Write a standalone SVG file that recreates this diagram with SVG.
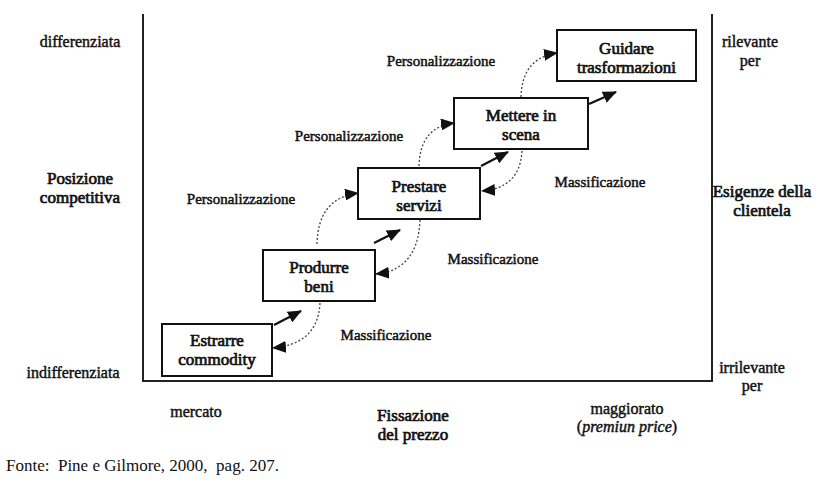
<svg xmlns="http://www.w3.org/2000/svg" width="820" height="488" viewBox="0 0 820 488">
<style>
text{font-family:"Liberation Serif","Times New Roman",serif;fill:#111;}
.b{font-size:17px;text-anchor:middle;stroke:#111;stroke-width:0.7;}
.l{font-size:15px;text-anchor:middle;stroke:#111;stroke-width:0.5;}
.a{font-size:16px;text-anchor:middle;stroke:#111;stroke-width:0.45;}
.n{font-size:17px;}
.box{fill:#fff;stroke:#111;stroke-width:2;}
.solid{stroke:#111;stroke-width:2.2;fill:none;marker-end:url(#head);}
.dot{stroke:#444;stroke-width:1.3;stroke-dasharray:2 2;fill:none;marker-end:url(#head);}
</style>
<defs>
<marker id="head" viewBox="0 0 14 12" refX="13" refY="6" markerWidth="14" markerHeight="12" markerUnits="userSpaceOnUse" orient="auto">
<path d="M0,0 L14,6 L0,12 Z" fill="#111"/>
</marker>
</defs>
<rect width="820" height="488" fill="#fff"/>
<g id="frame">
<path d="M143,14 V381 H712 V14" fill="none" stroke="#222" stroke-width="2"/>
</g>
<g id="axis-labels">
<text class="a" x="80" y="47">differenziata</text>
<text class="b" x="80" y="184">Posizione</text>
<text class="b" x="80" y="203">competitiva</text>
<text class="a" x="73" y="378">indifferenziata</text>
<text class="a" x="750" y="47">rilevante</text>
<text class="a" x="750" y="66">per</text>
<text class="b" x="762" y="197">Esigenze della</text>
<text class="b" x="762" y="216">clientela</text>
<text class="a" x="752" y="373">irrilevante</text>
<text class="a" x="752" y="391">per</text>
<text class="a" x="196" y="417">mercato</text>
<text class="b" x="413" y="421">Fissazione</text>
<text class="b" x="413" y="440">del prezzo</text>
<text class="a" x="627" y="414">maggiorato</text>
<text class="a" x="627" y="432">(<tspan font-style="italic">premiun price</tspan>)</text>
<text class="n" x="6" y="471" xml:space="preserve">Fonte:  Pine e Gilmore, 2000,  pag. 207.</text>
</g>
<g id="connectors">
<path class="solid" d="M274,325 L301,311"/>
<path class="solid" d="M374,243 L400,230"/>
<path class="solid" d="M481,166 L508,152"/>
<path class="solid" d="M589,104 L616,92"/>
<path class="dot" d="M317,244 Q318,198 358,193"/>
<path class="dot" d="M419,166 Q420,127 454,123"/>
<path class="dot" d="M521,97 Q522,58 557,53"/>
<path class="dot" d="M320,303 Q318,344 273,348"/>
<path class="dot" d="M420,220 Q418,270 376,274"/>
<path class="dot" d="M522,151 Q520,188 482,191"/>
<text class="l" x="441" y="66">Personalizzazione</text>
<text class="l" x="349" y="141">Personalizzazione</text>
<text class="l" x="241" y="204">Personalizzazione</text>
<text class="l" x="600" y="187">Massificazione</text>
<text class="l" x="493" y="264">Massificazione</text>
<text class="l" x="386" y="340">Massificazione</text>
</g>
<g id="estrarre">
<rect class="box" x="162" y="324" width="110" height="52"/>
<text class="b" x="217" y="346">Estrarre</text>
<text class="b" x="217" y="365">commodity</text>
</g>
<g id="produrre">
<rect class="box" x="263" y="250" width="112" height="51"/>
<text class="b" x="319" y="273">Produrre</text>
<text class="b" x="319" y="292">beni</text>
</g>
<g id="prestare">
<rect class="box" x="358" y="168" width="122" height="51"/>
<text class="b" x="419" y="192">Prestare</text>
<text class="b" x="419" y="211">servizi</text>
</g>
<g id="mettere">
<rect class="box" x="454" y="98" width="134" height="51"/>
<text class="b" x="521" y="121">Mettere in</text>
<text class="b" x="521" y="140">scena</text>
</g>
<g id="guidare">
<rect class="box" x="557" y="30" width="139" height="51"/>
<text class="b" x="626.5" y="54">Guidare</text>
<text class="b" x="626.5" y="73">trasformazioni</text>
</g>
</svg>
